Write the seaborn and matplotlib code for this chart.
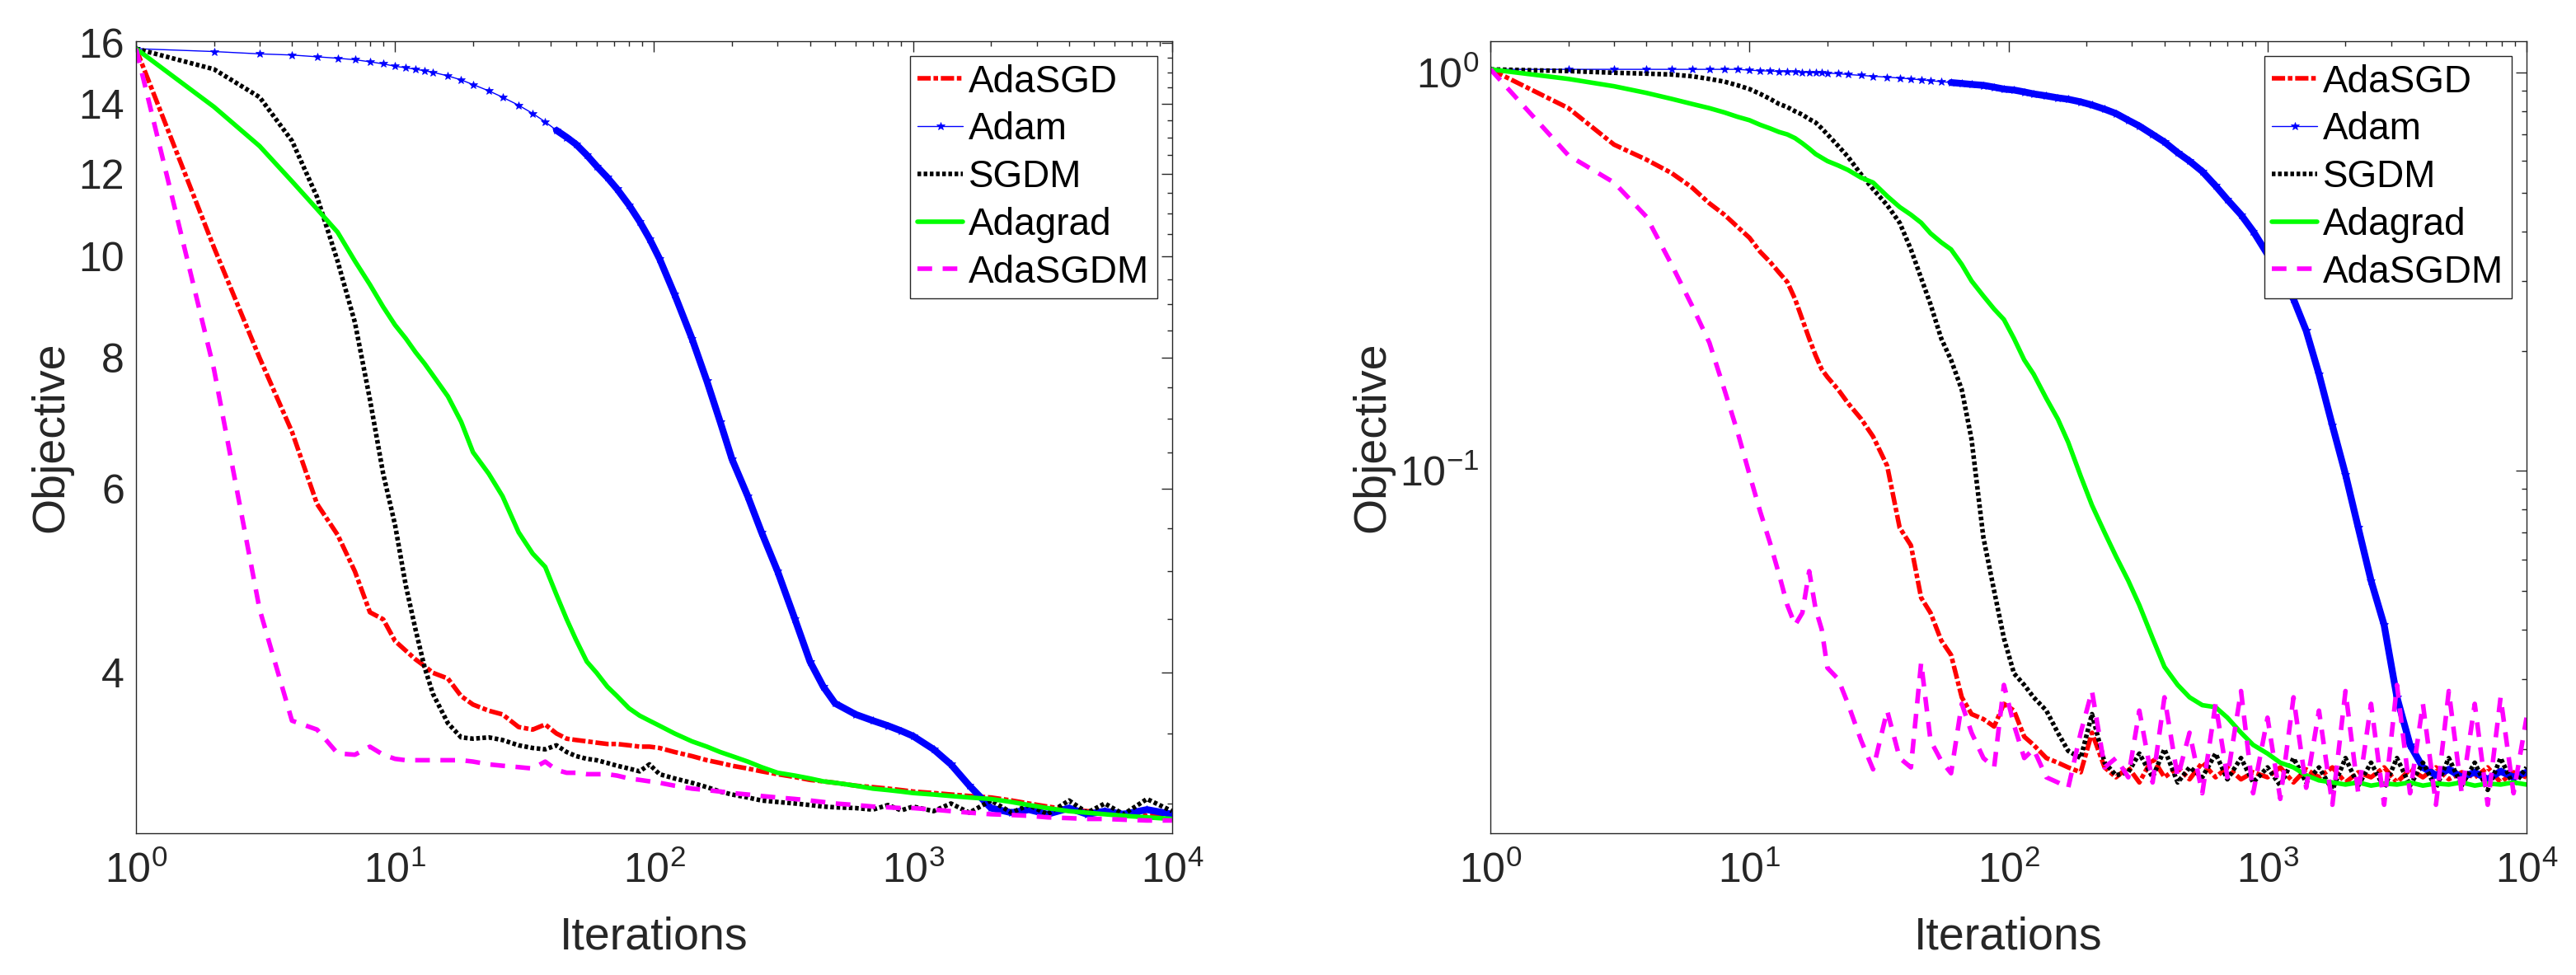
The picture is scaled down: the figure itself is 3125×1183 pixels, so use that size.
import numpy as np
import pandas as pd
import matplotlib
matplotlib.use("Agg")
import matplotlib.pyplot as plt
from matplotlib.ticker import FixedLocator, NullFormatter, LogLocator
import seaborn as sns

# ---- values ----
methods = ["AdaSGD", "Adam", "SGDM", "Adagrad", "AdaSGDM"]

# left panel
iters_left = [1, 2, 3, 4, 5, 6, 7, 8, 9, 10, 11, 12, 13, 14,
              16, 18, 20, 23, 26, 30,
              34, 38, 42, 46, 50,
              55, 60, 66, 72, 80, 88, 96,
              105, 120, 140, 160, 180, 200,
              230, 260, 300, 350, 400, 450, 500,
              600, 700, 800, 900, 1000,
              1200, 1400, 1650, 2000,
              2400, 2800, 3300, 4000, 4700, 5500, 6500, 8000, 10000]
adasgd_left = [15.8, 10.2, 8.0, 6.8, 5.8, 5.42, 5.0, 4.57, 4.5, 4.29, 4.2, 4.12, 4.06, 4.0,
               3.95, 3.80, 3.73, 3.68, 3.65, 3.55,
               3.53, 3.57, 3.50, 3.46, 3.45,
               3.44, 3.43, 3.42, 3.42, 3.41, 3.40, 3.40,
               3.39, 3.36, 3.33, 3.30, 3.28, 3.26,
               3.24, 3.22, 3.20, 3.18, 3.16, 3.15, 3.14,
               3.12, 3.11, 3.10, 3.09, 3.08,
               3.07, 3.06, 3.05, 3.04,
               3.02, 3.00, 2.98, 2.96, 2.95, 2.94, 2.93, 2.92, 2.92]
adam_left = [15.8, 15.7, 15.62, 15.58, 15.52, 15.47, 15.42, 15.35, 15.28, 15.2, 15.15, 15.1, 15.05, 15.0,
             14.88, 14.75, 14.6, 14.4, 14.2, 13.95,
             13.7, 13.45, 13.2, 13.0, 12.8,
             12.5, 12.2, 11.9, 11.6, 11.2, 10.8, 10.4,
             9.95, 9.2, 8.35, 7.6, 6.95, 6.4,
             5.9, 5.45, 5.0, 4.5, 4.1, 3.88, 3.74,
             3.65, 3.6, 3.56, 3.52, 3.48,
             3.38, 3.27, 3.12, 2.97,
             2.94, 2.96, 2.93, 2.97, 2.93, 2.95, 2.93, 2.96, 2.93]
sgdm_left = [15.8, 15.1, 14.2, 12.9, 11.4, 9.9, 8.65, 7.3, 6.2, 5.54, 4.85, 4.4, 4.05, 3.82,
             3.58, 3.47, 3.46, 3.47, 3.45, 3.41,
             3.39, 3.38, 3.41, 3.36, 3.33,
             3.31, 3.30, 3.28, 3.26, 3.24, 3.22, 3.27,
             3.20, 3.17, 3.14, 3.11, 3.08, 3.06,
             3.04, 3.02, 3.01, 3.00, 2.99, 2.98, 2.975,
             2.97, 2.96, 2.99, 2.955, 2.98,
             2.95, 3.00, 2.94, 3.02,
             2.94, 2.99, 2.93, 3.02, 2.94, 3.00, 2.93, 3.03, 2.95]
adagrad_left = [15.8, 13.9, 12.75, 11.8, 11.1, 10.55, 9.9, 9.4, 8.95, 8.6, 8.35, 8.1, 7.9, 7.7,
                7.35, 6.95, 6.5, 6.2, 5.9, 5.45,
                5.2, 5.05, 4.75, 4.5, 4.3,
                4.1, 4.0, 3.88, 3.8, 3.7, 3.64, 3.6,
                3.56, 3.50, 3.44, 3.40, 3.36, 3.33,
                3.29, 3.25, 3.21, 3.19, 3.17, 3.15, 3.14,
                3.12, 3.10, 3.09, 3.08, 3.07,
                3.06, 3.05, 3.04, 3.03,
                3.01, 2.99, 2.97, 2.95, 2.94, 2.93, 2.92, 2.91, 2.90]
adasgdm_left = [15.8, 7.8, 4.6, 3.6, 3.53, 3.35, 3.34, 3.40, 3.34, 3.31, 3.30, 3.30, 3.30, 3.30,
                3.30, 3.30, 3.29, 3.27, 3.26, 3.25,
                3.24, 3.29, 3.23, 3.21, 3.21,
                3.20, 3.20, 3.20, 3.19, 3.17, 3.16, 3.15,
                3.14, 3.12, 3.10, 3.09, 3.08, 3.07,
                3.06, 3.05, 3.04, 3.03, 3.02, 3.01, 3.00,
                2.99, 2.98, 2.975, 2.97, 2.97,
                2.96, 2.95, 2.94, 2.93,
                2.925, 2.92, 2.91, 2.905, 2.90, 2.90, 2.895, 2.89, 2.89]

# right panel
iters_right = [1, 2, 3, 4, 5, 6, 7, 8, 9, 10, 11, 12, 13, 14, 15, 16, 17, 18, 19, 20,
               22, 24, 27, 30,
               34, 38, 42, 46, 50,
               55, 60, 66, 72, 80, 88, 96,
               105, 115, 125, 140, 155, 170, 190,
               210, 235, 260, 290, 320, 360, 400,
               450, 500, 560, 630, 700, 790, 880,
               1000, 1120, 1260, 1410, 1580, 1780,
               2000, 2240, 2510, 2820, 3160, 3550, 3980,
               4470, 5010, 5620, 6310, 7080, 7940, 8910, 10000]
adasgd_right = [1.02, 0.815, 0.66, 0.605, 0.56, 0.515, 0.47, 0.44, 0.41, 0.385,
                0.355, 0.335, 0.315, 0.298, 0.27, 0.24, 0.215, 0.195, 0.18, 0.172,
                0.16, 0.148, 0.135, 0.122,
                0.103, 0.072, 0.065, 0.048, 0.044,
                0.0375, 0.0345, 0.027, 0.0245, 0.0238, 0.0228, 0.026,
                0.025, 0.0215, 0.0205, 0.019, 0.0185, 0.018, 0.0175,
                0.022, 0.018, 0.017, 0.018, 0.0165, 0.019, 0.017,
                0.018, 0.0168, 0.0185, 0.017, 0.018, 0.0168, 0.0175,
                0.017, 0.018, 0.0165, 0.0178, 0.017, 0.018,
                0.0165, 0.0175, 0.017, 0.018, 0.0165, 0.0178, 0.017,
                0.018, 0.0168, 0.0175, 0.017, 0.018, 0.0165, 0.0175, 0.017]
adam_right = [1.02, 1.02, 1.02, 1.02, 1.02, 1.02, 1.02, 1.02, 1.02, 1.015,
              1.012, 1.01, 1.008, 1.006, 1.005, 1.003, 1.002, 1.0, 1.0, 0.998,
              0.995, 0.99, 0.985, 0.98,
              0.975, 0.97, 0.965, 0.96, 0.955,
              0.95, 0.945, 0.94, 0.935, 0.93, 0.92, 0.91,
              0.905, 0.895, 0.885, 0.875, 0.865, 0.858, 0.845,
              0.83, 0.81, 0.79, 0.76, 0.735, 0.70, 0.67,
              0.63, 0.60, 0.565, 0.52, 0.48, 0.44, 0.40,
              0.35, 0.31, 0.27, 0.225, 0.175, 0.13,
              0.098, 0.072, 0.053, 0.041, 0.027, 0.0205, 0.018,
              0.0172, 0.0178, 0.017, 0.0175, 0.0168, 0.0176, 0.017, 0.0175]
sgdm_right = [1.02, 1.01, 1.0, 0.995, 0.99, 0.98, 0.965, 0.95, 0.93, 0.91,
              0.885, 0.86, 0.835, 0.82, 0.8, 0.785, 0.765, 0.75, 0.725, 0.7,
              0.655, 0.615, 0.555, 0.51,
              0.465, 0.42, 0.36, 0.305, 0.262,
              0.215, 0.19, 0.16, 0.12, 0.068, 0.05, 0.038,
              0.031, 0.029, 0.027, 0.025, 0.022, 0.0198, 0.019,
              0.0245, 0.0185, 0.0172, 0.0175, 0.0195, 0.017, 0.02,
              0.0165, 0.018, 0.017, 0.0195, 0.0168, 0.019, 0.0165,
              0.018, 0.0162, 0.019, 0.0165, 0.018, 0.0158,
              0.019, 0.0162, 0.0185, 0.016, 0.019, 0.0162, 0.0185,
              0.016, 0.019, 0.0162, 0.0185, 0.0158, 0.019, 0.0162, 0.018]
adagrad_right = [1.02, 0.965, 0.925, 0.89, 0.86, 0.835, 0.815, 0.795, 0.775, 0.76,
                 0.74, 0.725, 0.71, 0.70, 0.685, 0.665, 0.645, 0.625, 0.612, 0.60,
                 0.585, 0.57, 0.545, 0.53,
                 0.49, 0.46, 0.44, 0.42, 0.395,
                 0.375, 0.36, 0.33, 0.30, 0.275, 0.255, 0.24,
                 0.215, 0.19, 0.175, 0.152, 0.135, 0.118, 0.097,
                 0.082, 0.07, 0.061, 0.053, 0.046, 0.038, 0.0322,
                 0.029, 0.027, 0.0258, 0.0255, 0.024, 0.022, 0.0205,
                 0.0195, 0.0185, 0.018, 0.0172, 0.0167, 0.0165,
                 0.0163, 0.0165, 0.0162, 0.0164, 0.0163, 0.0165, 0.0162,
                 0.0164, 0.0163, 0.0165, 0.0162, 0.0164, 0.0163, 0.0165, 0.0163]
adasgdm_right = [1.02, 0.62, 0.53, 0.435, 0.33, 0.26, 0.21, 0.16, 0.125, 0.098,
                 0.079, 0.066, 0.055, 0.046, 0.041, 0.044, 0.056, 0.045, 0.040, 0.032,
                 0.030, 0.026, 0.021, 0.0178,
                 0.025, 0.019, 0.018, 0.033, 0.021,
                 0.0187, 0.0174, 0.026, 0.022, 0.019, 0.018, 0.029,
                 0.023, 0.019, 0.020, 0.017, 0.0165, 0.016, 0.022,
                 0.028, 0.018, 0.019, 0.017, 0.025, 0.0165, 0.027,
                 0.017, 0.022, 0.0155, 0.026, 0.017, 0.028, 0.0155,
                 0.024, 0.015, 0.027, 0.016, 0.025, 0.0145,
                 0.028, 0.0155, 0.026, 0.0145, 0.029, 0.0155, 0.026,
                 0.0145, 0.028, 0.0155, 0.026, 0.0145, 0.027, 0.0155, 0.024]

yticks_left = [4, 6, 8, 10, 12, 14, 16]

# ---- style ----
sns.set_theme(style="white")
plt.rcParams['font.family'] = ['Liberation Sans', 'DejaVu Sans']
plt.rcParams['mathtext.default'] = 'regular'
plt.rcParams['axes.unicode_minus'] = False

DARK = '#262626'
styles = {
    "AdaSGD": dict(color='#FF0000', lw=4.0, linestyle=(0, (2.9, 0.6, 1.0, 0.6))),
    "Adam": dict(color='#0000FF', lw=1.0, linestyle='-', marker='*', markersize=7,
                 markeredgecolor='#0000FF', markeredgewidth=0.5),
    "SGDM": dict(color='#000000', lw=4.0, linestyle=(0, (0.8, 0.55))),
    "Adagrad": dict(color='#00FF00', lw=4.0, linestyle='-'),
    "AdaSGDM": dict(color='#FF00FF', lw=4.0, linestyle=(0, (3.2, 2.3))),
}


def draw_panel(ax, iters, series, band_from):
    df = pd.DataFrame({"Iterations": iters, **series})
    for name in methods:
        sns.lineplot(data=df, x="Iterations", y=name, ax=ax, label=name,
                     estimator=None, sort=False, **styles[name])
        if name == "Adam":
            # stars at every iteration merge into a solid band further right
            dense = df[df["Iterations"] >= band_from]
            sns.lineplot(data=dense, x="Iterations", y=name, ax=ax, color='#0000FF',
                         lw=6, estimator=None, sort=False, label='_nolegend_')

    ax.set_xscale('log')
    ax.set_yscale('log')
    ax.set_xlim(1, 1e4)
    ax.xaxis.set_major_locator(LogLocator(base=10, numticks=10))
    ax.xaxis.set_minor_locator(LogLocator(base=10, subs=np.arange(2, 10), numticks=100))
    ax.xaxis.set_minor_formatter(NullFormatter())
    ax.tick_params(which='both', direction='in', top=True, right=True,
                   color=DARK, labelcolor=DARK, width=1.0)
    ax.tick_params(which='major', length=9.5, labelsize=36)
    ax.tick_params(axis='x', which='major', pad=16)
    ax.tick_params(axis='y', which='major', pad=10)
    ax.tick_params(which='minor', length=4.5)
    for sp in ax.spines.values():
        sp.set_visible(True)
        sp.set_color(DARK)
        sp.set_linewidth(1.0)
    ax.set_xlabel('Iterations', fontsize=40, color=DARK, labelpad=22)
    ax.set_ylabel('Objective', fontsize=40, color=DARK, labelpad=5)

    leg = ax.legend(loc='upper right', fontsize=33, fancybox=False, framealpha=1,
                    edgecolor=DARK, facecolor='white', handlelength=1.2,
                    handletextpad=0.15, borderpad=0.2, labelspacing=0.3,
                    borderaxespad=0.4)
    leg.get_frame().set_linewidth(1.0)
    for t in leg.get_texts():
        t.set_color('black')


fig = plt.figure(figsize=(31.25, 11.83), dpi=100)
ax1 = fig.add_axes([0.0528, 0.1454, 0.4022, 0.8123])
ax2 = fig.add_axes([0.5786, 0.1454, 0.4022, 0.8123])

draw_panel(ax1, iters_left, {"AdaSGD": adasgd_left, "Adam": adam_left, "SGDM": sgdm_left,
                             "Adagrad": adagrad_left, "AdaSGDM": adasgdm_left}, 40)
ax1.set_ylim(2.81, 16.06)
ax1.set_yticks(yticks_left)
ax1.set_yticklabels([str(t) for t in yticks_left])
ax1.yaxis.set_minor_locator(FixedLocator([v for v in np.arange(3.0, 16.01, 0.5)
                                          if v not in yticks_left]))
ax1.yaxis.set_minor_formatter(NullFormatter())

draw_panel(ax2, iters_right, {"AdaSGD": adasgd_right, "Adam": adam_right, "SGDM": sgdm_right,
                              "Adagrad": adagrad_right, "AdaSGDM": adasgdm_right}, 60)
ax2.set_ylim(0.0123, 1.2)
ax2.yaxis.set_major_locator(LogLocator(base=10, numticks=10))
ax2.yaxis.set_minor_locator(LogLocator(base=10, subs=np.arange(2, 10), numticks=100))
ax2.yaxis.set_minor_formatter(NullFormatter())

fig.savefig('out.png', dpi=100, facecolor='white')
